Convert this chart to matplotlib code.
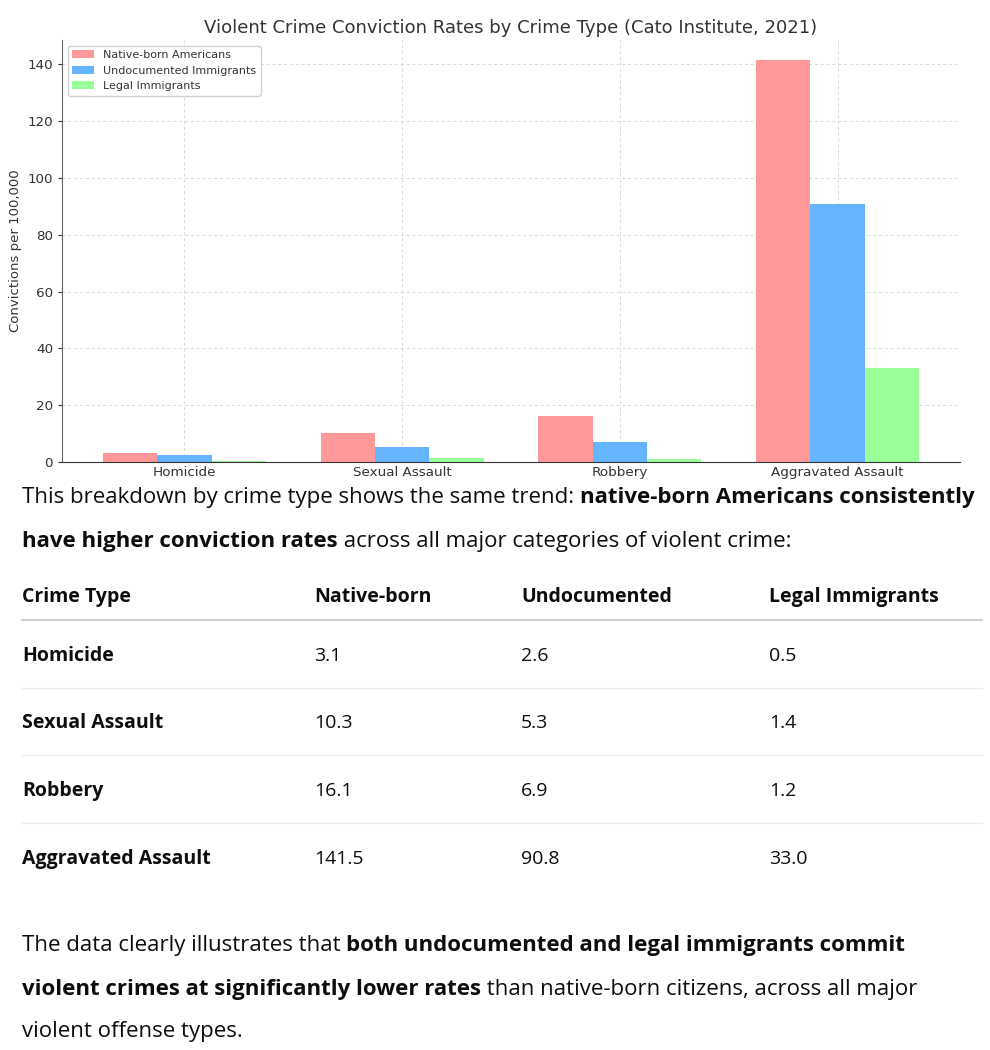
import numpy as np
import matplotlib.pyplot as plt

W, H = 990, 1050
BODY = ['Open Sans', 'DejaVu Sans']

crimes = ['Homicide', 'Sexual Assault', 'Robbery', 'Aggravated Assault']
native = [3.1, 10.3, 16.1, 141.5]
undocumented = [2.6, 5.3, 6.9, 90.8]
legal = [0.5, 1.4, 1.2, 33.0]
groups = ['Native-born Americans', 'Undocumented Immigrants', 'Legal Immigrants']
colors = ['#ff9999', '#66b3ff', '#99ff99']
table_header = ['Crime Type', 'Native-born', 'Undocumented', 'Legal Immigrants']


def fx(px):
    return px / W


def fy(py):
    return 1 - py / H


fig = plt.figure(figsize=(W / 100, H / 100), dpi=100)
fig.patch.set_facecolor('white')

# bar chart
ax = fig.add_axes([fx(62), fy(462), fx(960 - 62), (462 - 40) / H])
x = np.arange(len(crimes))
width = 0.25
for i, (vals, name) in enumerate(zip([native, undocumented, legal], groups)):
    ax.bar(x + (i - 1) * width, vals, width, label=name, color=colors[i])
ax.set_xticks(x)
ax.set_xticklabels(crimes, fontsize=9.7, color='#333333')
ax.tick_params(axis='y', labelsize=9.7, colors='#333333', length=3)
ax.tick_params(axis='x', length=0, pad=3)
ax.set_ylabel('Convictions per 100,000', fontsize=9.5, color='#333333')
ax.set_title('Violent Crime Conviction Rates by Crime Type (Cato Institute, 2021)',
             fontsize=13, color='#333333', pad=5)
ax.grid(True, linestyle=(0, (3, 3)), color='#d8d8d8', linewidth=0.7)
ax.set_axisbelow(True)
ax.spines['top'].set_visible(False)
ax.spines['right'].set_visible(False)
ax.spines['left'].set_color('#666666')
ax.spines['bottom'].set_color('#333333')
ax.legend(loc='upper left', fontsize=8, framealpha=0.9, labelcolor='#333333')

renderer = fig.canvas.get_renderer()


def draw_runs(x_px, y_px, runs, size=16):
    xx = x_px
    for txt, bold in runs:
        t = fig.text(fx(xx), fy(y_px), txt, fontsize=size, family=BODY,
                     fontweight='bold' if bold else 'normal',
                     va='center', ha='left', color='#0d0d0d')
        xx += t.get_window_extent(renderer).width


draw_runs(22, 498, [('This breakdown by crime type shows the same trend: ', False),
                    ('native-born Americans consistently', True)])
draw_runs(22, 541, [('have higher conviction rates', True),
                    (' across all major categories of violent crime:', False)])

# table
col_x = [22, 314, 521, 769]
for cx, h in zip(col_x, table_header):
    fig.text(fx(cx), fy(597), h, fontsize=14, family=BODY, fontweight='bold',
             va='center', color='#0d0d0d')
fig.add_artist(plt.Line2D([fx(22), fx(982)], [fy(620), fy(620)], color='#d0d0d0', linewidth=1.5))

row_y = [656, 723, 791, 859]
for k, cname in enumerate(crimes):
    cells = [cname, f'{native[k]:.1f}', f'{undocumented[k]:.1f}', f'{legal[k]:.1f}']
    for j, (cx, c) in enumerate(zip(col_x, cells)):
        fig.text(fx(cx), fy(row_y[k]), c, fontsize=14, family=BODY,
                 fontweight='bold' if j == 0 else 'normal', va='center', color='#0d0d0d')
    if k < len(crimes) - 1:
        ly = row_y[k] + 32
        fig.add_artist(plt.Line2D([fx(22), fx(982)], [fy(ly), fy(ly)], color='#ececec', linewidth=1))

draw_runs(22, 946, [('The data clearly illustrates that ', False),
                    ('both undocumented and legal immigrants commit', True)])
draw_runs(22, 989, [('violent crimes at significantly lower rates', True),
                    (' than native-born citizens, across all major', False)])
draw_runs(22, 1031, [('violent offense types.', False)])

fig.savefig('out.png', dpi=100, facecolor='white')
